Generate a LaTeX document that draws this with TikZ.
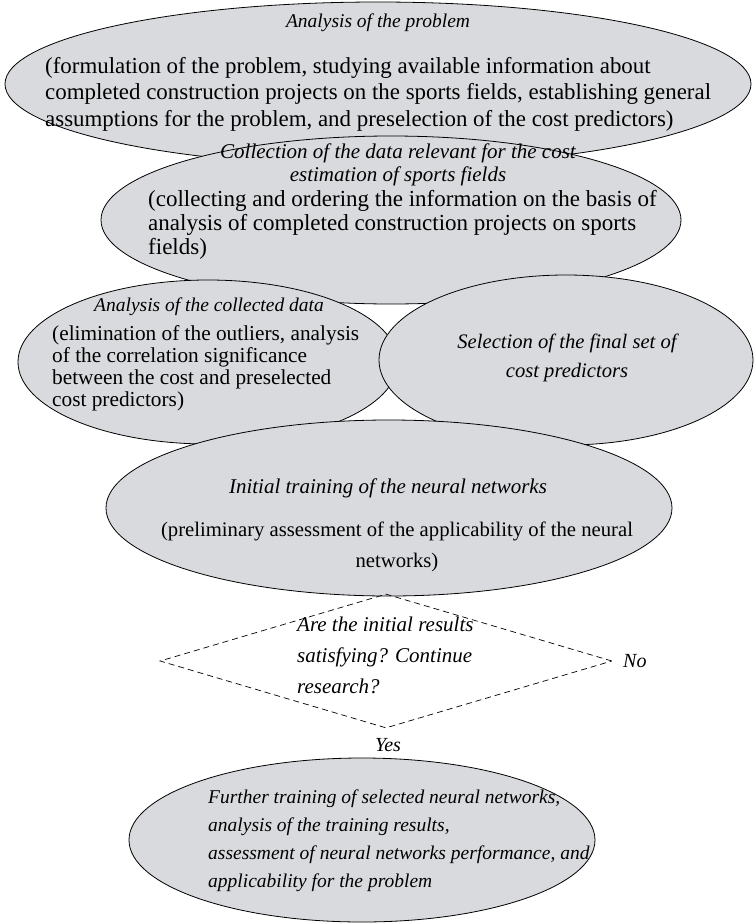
\documentclass[tikz,border=0pt]{standalone}
\usepackage{fontspec}
\setmainfont{Liberation Serif}
\usetikzlibrary{shapes.geometric}
\definecolor{bubblefill}{RGB}{217,218,221}
\tikzset{
  bubble/.style={ellipse, draw=black, line width=0.8pt, fill=bubblefill, inner sep=0pt},
  headtext/.style={inner sep=0pt, align=center},
  bodytext/.style={inner sep=0pt, align=left, anchor=north west},
  decision/.style={diamond, draw=black, line width=0.7pt, dash pattern=on 6pt off 4pt, inner sep=0pt, aspect=3.35},
  answer/.style={inner sep=0pt, font=\fontsize{20}{24}\selectfont\itshape}
}
\begin{document}
\begin{tikzpicture}[x=1pt,y=-1pt]
\useasboundingbox (0,0) rectangle (754,924);

% problem analysis
\node[bubble, minimum width=746, minimum height=164] (e1) at (378,84) {};
\node[headtext, font=\fontsize{19.5}{23}\selectfont\itshape] (t1) at (378,23) {Analysis of the problem};
\node[bodytext, font=\fontsize{22.9}{26.5}\selectfont] (b1) at (45,57) {(formulation of the problem, studying available information about\\
completed construction projects on the sports fields, establishing general\\
assumptions for the problem, and preselection of the cost predictors)};

% data collection
\node[bubble, minimum width=580, minimum height=168] (e2) at (391,220) {};
\node[headtext, font=\fontsize{21}{23}\selectfont\itshape] (t2) at (398,165) {Collection of the data relevant for the cost\\estimation of sports fields};
\node[bodytext, font=\fontsize{23}{24}\selectfont] (b2) at (148,190) {(collecting and ordering the information on the basis of\\
analysis of completed construction projects on sports\\
fields)};

% data analysis
\node[bubble, minimum width=380, minimum height=164] (e3) at (208,362) {};
\node[headtext, font=\fontsize{19.5}{23}\selectfont\itshape] (t3) at (209,307) {Analysis of the collected data};
\node[bodytext, font=\fontsize{21.3}{22}\selectfont] (b3) at (52,325) {(elimination of the outliers, analysis\\
of the correlation significance\\
between the cost and preselected\\
cost predictors)};

% predictor selection
\node[bubble, minimum width=374, minimum height=170] (e4) at (566,360) {};
\node[headtext, font=\fontsize{20.6}{29}\selectfont\itshape] (t4) at (567,358) {Selection of the final set of\\cost predictors};

% initial training
\node[bubble, minimum width=566, minimum height=176] (e5) at (389,508) {};
\node[headtext, font=\fontsize{21}{23}\selectfont\itshape] (t5) at (388,488) {Initial training of the neural networks};
\node[bodytext, align=center, anchor=north, font=\fontsize{20.7}{31}\selectfont] (b5) at (397,522) {(preliminary assessment of the applicability of the neural\\
networks)};

% decision
\node[decision, minimum width=452, minimum height=134] (d) at (386,661) {};
\node[bodytext, font=\fontsize{21}{31}\selectfont\itshape] (dq) at (297,617) {Are the initial results\\
satisfying? Continue\\
research?};
\node[answer, anchor=west] (no) at (623,661) {No};
\node[answer] (yes) at (388,745) {Yes};

% further training
\node[bubble, minimum width=466, minimum height=164] (e6) at (362,840) {};
\node[bodytext, font=\fontsize{19.5}{27.7}\selectfont\itshape] (b6) at (208,790) {Further training of selected neural networks,\\
analysis of the training results,\\
assessment of neural networks performance, and\\
applicability for the problem};
\end{tikzpicture}
\end{document}
